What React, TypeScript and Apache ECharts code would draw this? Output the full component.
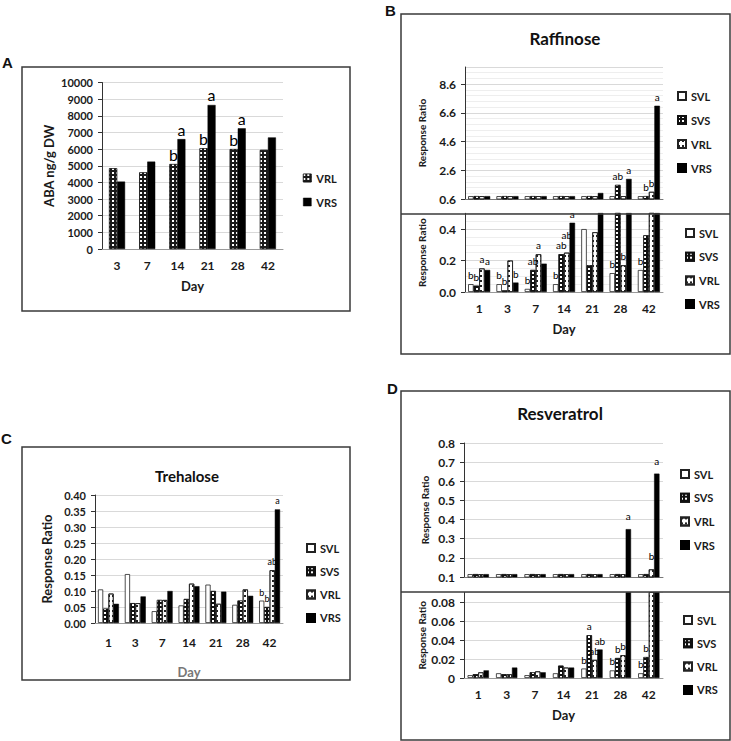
import React, { useEffect, useRef } from 'react';
import * as echarts from 'echarts';

// ---------- Panel A: ABA ----------
const abaDays = ['3', '7', '14', '21', '28', '42'];
const abaVRL = [4850, 4600, 5100, 6050, 6000, 5950];
const abaVRS = [4050, 5250, 6600, 8650, 7250, 6700];
const abaVRLLetters = ['', '', 'b', 'b', 'b', ''];
const abaVRSLetters = ['', '', 'a', 'a', 'a', ''];

// ---------- shared days ----------
const days = ['1', '3', '7', '14', '21', '28', '42'];

// ---------- Panel B: Raffinose ----------
const rafSVL = [0.05, 0.05, 0.02, 0.05, 0.40, 0.12, 0.14];
const rafSVS = [0.04, 0.01, 0.14, 0.24, 0.17, 1.58, 0.36];
const rafVRL = [0.15, 0.20, 0.24, 0.25, 0.38, 0.17, 1.1];
const rafVRS = [0.14, 0.06, 0.18, 0.44, 1.02, 2.0, 7.1];
const rafTopSVL = ['', '', '', '', '', '', ''];
const rafTopSVS = ['', '', '', '', '', 'ab', 'b'];
const rafTopVRL = ['', '', '', '', '', '', 'b'];
const rafTopVRS = ['', '', '', '', '', 'a', 'a'];
const rafBotSVL = ['b', 'b', 'b', 'b', '', 'b', 'b'];
const rafBotSVS = ['b', 'b', 'ab', 'ab', '', '', ''];
const rafBotVRL = ['a', '', 'a', 'ab', '', 'b', ''];
const rafBotVRS = ['a', 'b', '', 'a', '', '', ''];

// ---------- Panel C: Trehalose ----------
const treSVL = [0.105, 0.153, 0.037, 0.055, 0.120, 0.057, 0.070];
const treSVS = [0.045, 0.062, 0.072, 0.075, 0.100, 0.070, 0.050];
const treVRL = [0.092, 0.062, 0.072, 0.123, 0.060, 0.105, 0.165];
const treVRS = [0.060, 0.083, 0.100, 0.115, 0.098, 0.085, 0.355];
const treLetSVL = ['', '', '', '', '', '', 'b'];
const treLetSVS = ['', '', '', '', '', '', 'b'];
const treLetVRL = ['', '', '', '', '', '', 'ab'];
const treLetVRS = ['', '', '', '', '', '', 'a'];

// ---------- Panel D: Resveratrol ----------
const resSVL = [0.003, 0.005, 0.003, 0.005, 0.010, 0.008, 0.005];
const resSVS = [0.004, 0.004, 0.006, 0.013, 0.045, 0.021, 0.022];
const resVRL = [0.006, 0.004, 0.007, 0.011, 0.019, 0.024, 0.14];
const resVRS = [0.008, 0.011, 0.006, 0.011, 0.030, 0.35, 0.64];
const resTopSVL = ['', '', '', '', '', '', ''];
const resTopSVS = ['', '', '', '', '', '', ''];
const resTopVRL = ['', '', '', '', '', '', 'b'];
const resTopVRS = ['', '', '', '', '', 'a', 'a'];
const resBotSVL = ['', '', '', '', 'b', 'b', 'b'];
const resBotSVS = ['', '', '', '', 'a', 'b', 'b'];
const resBotVRL = ['', '', '', '', 'ab', 'b', ''];
const resBotVRS = ['', '', '', '', 'ab', '', ''];

const seriesNames = ['SVL', 'SVS', 'VRL', 'VRS'];

const FONT = 'Lato, "Noto Sans", sans-serif';
const TXT = '#1a1a1a';
const LBL = '#000000';

const styleSVL = { color: '#ffffff', borderColor: '#222', borderWidth: 0.8 };
const styleSVS = {
  color: '#111',
  borderColor: '#111',
  borderWidth: 0.6,
  decal: { symbol: 'rect', color: '#ffffff', dashArrayX: [1.3, 2], dashArrayY: [1.3, 2], symbolSize: 1 },
};
const styleVRL = {
  color: '#ffffff',
  borderColor: '#222',
  borderWidth: 0.8,
  decal: { symbol: 'rect', color: '#222', dashArrayX: [1.5, 1.5], dashArrayY: [1.5, 2.5], symbolSize: 1 },
};
const styleVRS = { color: '#000', borderColor: '#000', borderWidth: 0.5 };
const styleAVRL = {
  color: '#1a1a1a',
  borderColor: '#111',
  borderWidth: 0.6,
  decal: { symbol: 'rect', color: '#ffffff', dashArrayX: [1.2, 1.6], dashArrayY: [1.2, 1.6], symbolSize: 1 },
};
const styles = [styleSVL, styleSVS, styleVRL, styleVRS];

function bar(name: string, values: number[], letters: string[], idx: number, style: any, opts: any) {
  const floor = opts.floor;
  const lab = (i: number) => ({
    position: 'top',
    distance: opts.distFn ? opts.distFn(i) : opts.labelDist ?? 4,
    fontFamily: FONT,
    fontSize: opts.labelSize,
    fontWeight: 'normal',
    color: LBL,
    textBorderWidth: 0,
  });
  return {
    type: 'bar',
    name,
    xAxisIndex: idx,
    yAxisIndex: idx,
    barGap: '0%',
    barCategoryGap: opts.gap,
    clip: true,
    itemStyle: style,
    label: { show: false, ...lab(0) },
    emphasis: { disabled: true },
    data: values.map((v, i) => ({
      value: floor !== undefined && v < floor ? floor + opts.stub : v,
      label: { ...lab(i), show: !!letters[i], formatter: letters[i] || '' },
    })),
  };
}

function yAxis(idx: number, o: any) {
  return {
    type: 'value',
    gridIndex: idx,
    min: o.min,
    max: o.max,
    interval: o.interval,
    name: o.name,
    nameLocation: 'middle',
    nameRotate: 90,
    nameGap: o.nameGap,
    nameTextStyle: { fontFamily: FONT, fontWeight: 'bold', fontSize: o.nameSize, color: TXT },
    axisLine: { show: true, lineStyle: { color: '#333', width: 1 } },
    axisTick: { show: true, length: 4, lineStyle: { color: '#333' } },
    axisLabel: {
      show: true,
      margin: o.labelMargin ?? 9,
      fontFamily: FONT,
      fontWeight: 'bold',
      fontSize: o.labelSize ?? 11,
      color: TXT,
      showMaxLabel: o.showMax ?? true,
      formatter: o.formatter,
    },
    splitLine: { show: true, lineStyle: { color: '#d9d9d9', width: 1 } },
    minorTick: { show: false, splitNumber: o.minorSplit ?? 5 },
    minorSplitLine: { show: !!o.minorSplit, lineStyle: { color: '#eeeeee', width: 1 } },
  };
}

function xAxis(idx: number, data: string[], o: any) {
  return {
    type: 'category',
    gridIndex: idx,
    data,
    name: o.name,
    nameLocation: 'middle',
    nameGap: o.nameGap,
    nameTextStyle: { fontFamily: FONT, fontWeight: 'bold', fontSize: 13, color: o.nameColor ?? TXT },
    axisLine: { show: true, lineStyle: { color: o.lineColor ?? '#999', width: 1 } },
    axisTick: { show: false },
    axisLabel: {
      show: !o.hideLabels,
      margin: o.labelMargin ?? 10,
      fontFamily: FONT,
      fontWeight: 'bold',
      fontSize: 12,
      color: TXT,
      interval: 0,
    },
    splitLine: { show: false },
  };
}

function legend(left: number, top: number, gap: number, names: string[], extra?: any) {
  return {
    orient: 'vertical',
    left,
    top,
    itemGap: gap,
    itemWidth: 8,
    itemHeight: 8,
    icon: 'rect',
    selectedMode: false,
    padding: 0,
    textStyle: { fontFamily: FONT, fontWeight: 'bold', fontSize: 11, color: TXT, lineHeight: 12 },
    data: extra ?? names,
  };
}

const fmt1 = (v: number) => v.toFixed(1);
const fmt2 = (v: number) => v.toFixed(2);
const fmt0 = (v: number) => String(Math.round(v));
const fmtD = (v: number) => (Math.abs(v) < 1e-9 ? '0' : v.toFixed(2));

export default function App() {
  const ref = useRef<HTMLDivElement>(null);
  useEffect(() => {
    if (!ref.current) return;
    const chart = echarts.init(ref.current, undefined, { renderer: 'svg' });

    const grids = [
      { left: 102, top: 82.5, width: 181, height: 166.5 }, // 0 A
      { left: 465, top: 67, width: 198, height: 132 }, // 1 B top
      { left: 465, top: 213.3, width: 198, height: 78.7 }, // 2 B bottom
      { left: 95, top: 495, width: 188, height: 128 }, // 3 C
      { left: 464, top: 443, width: 199, height: 134 }, // 4 D top
      { left: 464, top: 592.5, width: 199, height: 85.5 }, // 5 D bottom
    ];

    const xAxes = [
      xAxis(0, abaDays, { name: 'Day', nameGap: 30, lineColor: '#999' }),
      xAxis(1, days, { hideLabels: true, lineColor: '#777' }),
      xAxis(2, days, { name: 'Day', nameGap: 30 }),
      xAxis(3, days, { name: 'Day', nameGap: 42, labelMargin: 13, nameColor: '#777' }),
      xAxis(4, days, { hideLabels: true, lineColor: '#777' }),
      xAxis(5, days, { name: 'Day', nameGap: 30 }),
    ];

    const yAxes = [
      yAxis(0, { min: 0, max: 10000, interval: 1000, name: 'ABA ng/g DW', nameGap: 47, nameSize: 13, formatter: fmt0 }),
      yAxis(1, { min: 0.6, max: 9.8, interval: 2, name: 'Response Ratio', nameGap: 38, nameSize: 10, formatter: fmt1, showMax: false, minorSplit: 5, labelSize: 12 }),
      yAxis(2, { min: 0, max: 0.5, interval: 0.2, name: 'Response Ratio', nameGap: 38, nameSize: 10, formatter: fmt1, showMax: false, minorSplit: 4, labelSize: 12 }),
      yAxis(3, { min: 0, max: 0.4, interval: 0.05, name: 'Response Ratio', nameGap: 42, nameSize: 13, formatter: fmt2 }),
      yAxis(4, { min: 0.1, max: 0.8, interval: 0.1, name: 'Response Ratio', nameGap: 34, nameSize: 10, formatter: fmt1, labelSize: 12 }),
      yAxis(5, { min: 0, max: 0.09, interval: 0.02, name: 'Response Ratio', nameGap: 36, nameSize: 10, formatter: fmtD, showMax: false, labelSize: 12 }),
    ];

    const series: any[] = [];
    const raf = [rafSVL, rafSVS, rafVRL, rafVRS];
    const rafTop = [rafTopSVL, rafTopSVS, rafTopVRL, rafTopVRS];
    const rafBot = [rafBotSVL, rafBotSVS, rafBotVRL, rafBotVRS];
    const tre = [treSVL, treSVS, treVRL, treVRS];
    const treLet = [treLetSVL, treLetSVS, treLetVRL, treLetVRS];
    const res = [resSVL, resSVS, resVRL, resVRS];
    const resTop = [resTopSVL, resTopSVS, resTopVRL, resTopVRS];
    const resBot = [resBotSVL, resBotSVS, resBotVRL, resBotVRS];

    // lift a two-letter label when the bar to its left carries a two-letter label at nearly the same height
    const liftIfCrowded = (vals: number[][], lets: string[][], k: number, span: number) => (i: number) =>
      k > 0 &&
      (lets[k][i] || '').length > 1 &&
      (lets[k - 1][i] || '').length > 1 &&
      Math.abs(vals[k - 1][i] - vals[k][i]) < span
        ? 13
        : 4;

    seriesNames.forEach((n, k) => {
      series.push(bar(n, raf[k], rafTop[k], 1, styles[k], { gap: '22%', labelSize: 10, floor: 0.6, stub: 0.2 }));
      series.push(bar(n, raf[k], rafBot[k], 2, styles[k], { gap: '22%', labelSize: 10, distFn: liftIfCrowded(raf, rafBot, k, 0.05) }));
      series.push(bar(n, tre[k], treLet[k], 3, styles[k], { gap: '22%', labelSize: 9 }));
      series.push(bar(n, res[k], resTop[k], 4, styles[k], { gap: '25%', labelSize: 10, labelDist: 8, floor: 0.1, stub: 0.015 }));
      series.push(bar(n, res[k], resBot[k], 5, styles[k], { gap: '25%', labelSize: 10, labelDist: 4 }));
    });
    series.push(bar('VRL', abaVRL, abaVRLLetters, 0, styleAVRL, { gap: '47%', labelSize: 16, labelDist: 2 }));
    series.push(bar('VRS', abaVRS, abaVRSLetters, 0, styleVRS, { gap: '47%', labelSize: 16, labelDist: 2 }));

    const box = (x1: number, y1: number, x2: number, y2: number) => ({
      type: 'rect',
      shape: { x: x1, y: y1, width: x2 - x1, height: y2 - y1 },
      style: { fill: 'none', stroke: '#3a3a3a', lineWidth: 1.5 },
      z: 100,
    });
    const hline = (x1: number, x2: number, y: number) => ({
      type: 'line',
      shape: { x1, y1: y, x2, y2: y },
      style: { stroke: '#3a3a3a', lineWidth: 1.5 },
      z: 100,
    });
    const letter = (t: string, x: number, y: number) => ({
      type: 'text',
      x,
      y,
      style: { text: t, font: 'bold 15px "Liberation Sans", Arial, sans-serif', fill: '#111', textVerticalAlign: 'middle' },
    });
    const title = (t: string, x: number, y: number, size: number) => ({
      type: 'text',
      x,
      y,
      style: {
        text: t,
        font: `bold ${size}px ${FONT}`,
        fill: '#111',
        textAlign: 'center',
        textVerticalAlign: 'middle',
      },
    });

    const option: any = {
      animation: false,
      backgroundColor: '#ffffff',
      textStyle: { fontFamily: FONT },
      grid: grids,
      xAxis: xAxes,
      yAxis: yAxes,
      legend: [
        legend(303, 172, 12, ['VRL', 'VRS'], [
          { name: 'VRL', itemStyle: styleAVRL },
          { name: 'VRS', itemStyle: styleVRS },
        ]),
        legend(677, 90, 12, seriesNames),
        legend(685, 227, 11.7, seriesNames),
        legend(306, 542, 11.3, seriesNames),
        legend(680, 468, 11.7, seriesNames),
        legend(683, 614, 11.3, seriesNames),
      ],
      series,
      graphic: [
        box(22, 67, 350, 311),
        box(401, 14, 730, 354),
        hline(401, 730, 214),
        box(22, 447, 350, 680),
        box(401, 391, 730, 740),
        hline(401, 730, 592),
        letter('A', 2, 62),
        letter('B', 385, 10),
        letter('C', 1, 438),
        letter('D', 387, 388),
        title('Raffinose', 565, 38, 17),
        title('Trehalose', 187, 476, 15),
        title('Resveratrol', 560, 413, 17),
      ],
    };
    chart.setOption(option);
    return () => chart.dispose();
  }, []);

  return (
    <div
      ref={ref}
      style={{ position: 'fixed', left: 0, top: 0, width: 731, height: 741, background: '#fff' }}
    />
  );
}
